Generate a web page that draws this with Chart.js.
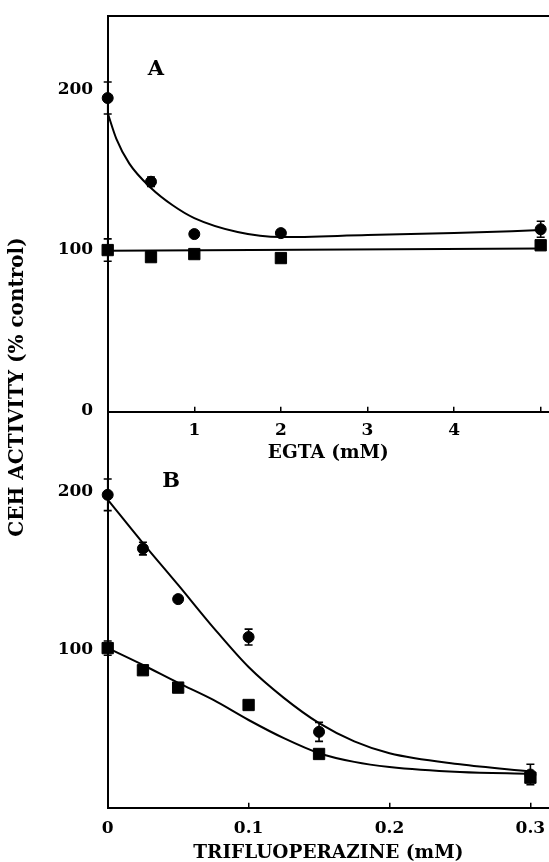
<!DOCTYPE html>
<html>
<head>
<meta charset="utf-8">
<script src="https://cdn.jsdelivr.net/npm/chart.js@4.4.1/dist/chart.umd.min.js"></script>
<style>
    html, body { margin: 0; padding: 0; background: #fff; }
    #wrap { position: relative; width: 549px; height: 862px; overflow: hidden; }
    #wrap canvas { position: absolute; left: 0; top: 0; }
</style>
</head>
<body>
<div id="wrap">
    <canvas id="chartA" width="549" height="862"></canvas>
    <canvas id="chartB" width="549" height="862"></canvas>
</div>
<script>
// ---- panel A : EGTA ----
var egtaX = [0, 0.5, 1, 2, 5];
var egtaCircle = [195, 142.7, 110, 110.6, 113];
var egtaCircleErr = [10, 3, 0, 2, 5];
var egtaSquare = [100, 95.6, 97.5, 95, 103];
var egtaSquareErr = [7, 0, 2, 0, 0];
var egtaCurveX = [0, 0.1, 0.25, 0.5, 0.75, 1, 1.5, 2, 3, 4, 5];
var egtaCircleCurve = [185.6, 169.5, 154, 138.8, 128, 120, 111.3, 108.1, 109.4, 110.6, 112.5];
var egtaLineX = [0, 5];
var egtaSquareLine = [99.6, 101];
var egtaTickValues = [0, 1, 2, 3, 4, 5];
var egtaTickLabels = ['', '1', '2', '3', '4', ''];
var egtaYTicks = [0, 100, 200];

// ---- panel B : trifluoperazine ----
var tfpX = [0, 0.025, 0.05, 0.1, 0.15, 0.3];
var tfpCircle = [198, 164, 132, 108, 48, 21];
var tfpCircleErr = [10, 4, 0, 5, 6, 6.5];
var tfpSquare = [101, 87, 76, 65, 34, 19];
var tfpSquareErr = [4.5, 0, 0, 0, 0, 0];
var tfpCurveX = [0, 0.025, 0.05, 0.075, 0.1, 0.125, 0.15, 0.175, 0.2, 0.25, 0.3];
var tfpCircleCurve = [195, 167.5, 141, 114, 89, 69.5, 53.5, 42, 34.5, 27.5, 23];
var tfpSquareCurve = [101, 90.3, 79, 68.2, 55.5, 44, 34.5, 29, 25.8, 22.6, 21.4];
var tfpTickValues = [0, 0.1, 0.2, 0.3];
var tfpTickLabels = ['0', '0.1', '0.2', '0.3'];
var tfpYTicks = [100, 200];

var FONT = "'DejaVu Serif', serif";

function pts(xs, ys) {
    return xs.map(function (x, i) { return { x: x, y: ys[i] }; });
}

// vertical error bars with small caps
var errorBars = {
    id: 'errorBars',
    afterDatasetsDraw: function (chart) {
        var ctx = chart.ctx, xs = chart.scales.x, ys = chart.scales.y;
        chart.data.datasets.forEach(function (ds) {
            if (!ds.errors) return;
            ctx.save();
            ctx.strokeStyle = '#000';
            ctx.lineWidth = 1.6;
            ds.data.forEach(function (p, i) {
                var e = ds.errors[i];
                if (!e) return;
                var px = xs.getPixelForValue(p.x);
                var t = ys.getPixelForValue(p.y + e), b = ys.getPixelForValue(p.y - e);
                ctx.beginPath();
                ctx.moveTo(px, t); ctx.lineTo(px, b);
                ctx.moveTo(px - 4, t); ctx.lineTo(px + 4, t);
                ctx.moveTo(px - 4, b); ctx.lineTo(px + 4, b);
                ctx.stroke();
            });
            ctx.restore();
        });
    }
};

// free text: panel letters and the shared y title
var freeText = {
    id: 'freeText',
    afterDraw: function (chart, args, opts) {
        var ctx = chart.ctx;
        (opts.items || []).forEach(function (t) {
            ctx.save();
            ctx.fillStyle = '#000';
            ctx.font = t.font;
            ctx.textAlign = 'center';
            ctx.textBaseline = 'middle';
            ctx.translate(t.x, t.y);
            if (t.rotate) ctx.rotate(t.rotate);
            ctx.fillText(t.text, 0, 0);
            ctx.restore();
        });
    }
};

function curveSet(xs, ys, smooth) {
    return {
        data: pts(xs, ys), borderColor: '#000', borderWidth: 2, pointRadius: 0,
        cubicInterpolationMode: smooth ? 'monotone' : 'default', tension: 0, clip: false
    };
}
function pointSet(xs, ys, errs, style) {
    return {
        data: pts(xs, ys), showLine: false, errors: errs,
        pointStyle: style, pointRadius: style == 'rect' ? 8 : 5.5,
        pointBackgroundColor: '#000', pointBorderColor: '#000', pointBorderWidth: 1, clip: false
    };
}

function noSidePad(s) { s.paddingLeft = 0; s.paddingRight = 0; }

function xAxis(min, max, values, labels, height, tickPad, title, titlePad) {
    return {
        type: 'linear', position: 'bottom', min: min, max: max,
        afterBuildTicks: function (s) { s.ticks = values.map(function (v) { return { value: v }; }); },
        afterFit: function (s) { s.height = height; noSidePad(s); },
        grid: { drawOnChartArea: false, color: '#000', lineWidth: 1.5, tickLength: -5 },
        border: { color: '#000', width: 2 },
        ticks: {
            color: '#000', padding: tickPad, maxRotation: 0, autoSkip: false,
            font: { family: FONT, size: 17, weight: 'bold' },
            callback: function (v, i) { return labels[i]; }
        },
        title: {
            display: true, text: title, color: '#000',
            font: { family: FONT, size: 18.5, weight: 'bold', lineHeight: 1 },
            padding: { top: 0, bottom: titlePad }
        }
    };
}
function yAxis(min, max, values) {
    return {
        type: 'linear', min: min, max: max,
        afterBuildTicks: function (s) { s.ticks = values.map(function (v) { return { value: v }; }); },
        afterFit: function (s) { s.width = 107.7; s.paddingTop = 0; s.paddingBottom = 0; },
        grid: { display: false, drawTicks: false },
        border: { color: '#000', width: 2 },
        ticks: { color: '#000', padding: 14.5, font: { family: FONT, size: 17, weight: 'bold' } }
    };
}

var base = {
    responsive: false, animation: false, events: [],
    plugins: { legend: { display: false }, tooltip: { enabled: false } }
};

new Chart(document.getElementById('chartA'), {
    type: 'line',
    data: {
        datasets: [
            curveSet(egtaCurveX, egtaCircleCurve, true),
            curveSet(egtaLineX, egtaSquareLine, false),
            pointSet(egtaX, egtaCircle, egtaCircleErr, 'circle'),
            pointSet(egtaX, egtaSquare, egtaSquareErr, 'rect')
        ]
    },
    options: Object.assign({}, base, {
        layout: { autoPadding: false, padding: { top: 15.8, bottom: 392, left: 0, right: 0 } },
        plugins: {
            legend: { display: false }, tooltip: { enabled: false },
            freeText: { items: [{ text: 'A', x: 156, y: 70, font: 'bold 21px ' + FONT }] }
        },
        scales: {
            x: xAxis(0, 5.096, egtaTickValues, egtaTickLabels, 58.3, 13.8, 'EGTA (mM)', 7.7),
            x2: {
                type: 'linear', position: 'top', min: 0, max: 5.096,
                afterFit: function (s) { s.height = 0; noSidePad(s); },
                grid: { display: false, drawTicks: false },
                ticks: { display: false },
                border: { display: true, color: '#000', width: 2 }
            },
            y: yAxis(-1, 246.4, egtaYTicks)
        }
    }),
    plugins: [errorBars, freeText]
});

new Chart(document.getElementById('chartB'), {
    type: 'line',
    data: {
        datasets: [
            curveSet(tfpCurveX, tfpCircleCurve, true),
            curveSet(tfpCurveX, tfpSquareCurve, true),
            pointSet(tfpX, tfpCircle, tfpCircleErr, 'circle'),
            pointSet(tfpX, tfpSquare, tfpSquareErr, 'rect')
        ]
    },
    options: Object.assign({}, base, {
        layout: { autoPadding: false, padding: { top: 411.7, bottom: 0, left: 0, right: 0 } },
        plugins: {
            legend: { display: false }, tooltip: { enabled: false },
            freeText: {
                items: [
                    { text: 'B', x: 171, y: 482, font: 'bold 21px ' + FONT },
                    { text: 'CEH ACTIVITY (% control)', x: 18, y: 387, rotate: -Math.PI / 2, font: 'bold 20px ' + FONT }
                ]
            }
        },
        scales: {
            x: xAxis(0, 0.3132, tfpTickValues, tfpTickLabels, 54.3, 16.1, 'TRIFLUOPERAZINE (mM)', 0),
            y: yAxis(0, 250.6, tfpYTicks)
        }
    }),
    plugins: [errorBars, freeText]
});
</script>
</body>
</html>
